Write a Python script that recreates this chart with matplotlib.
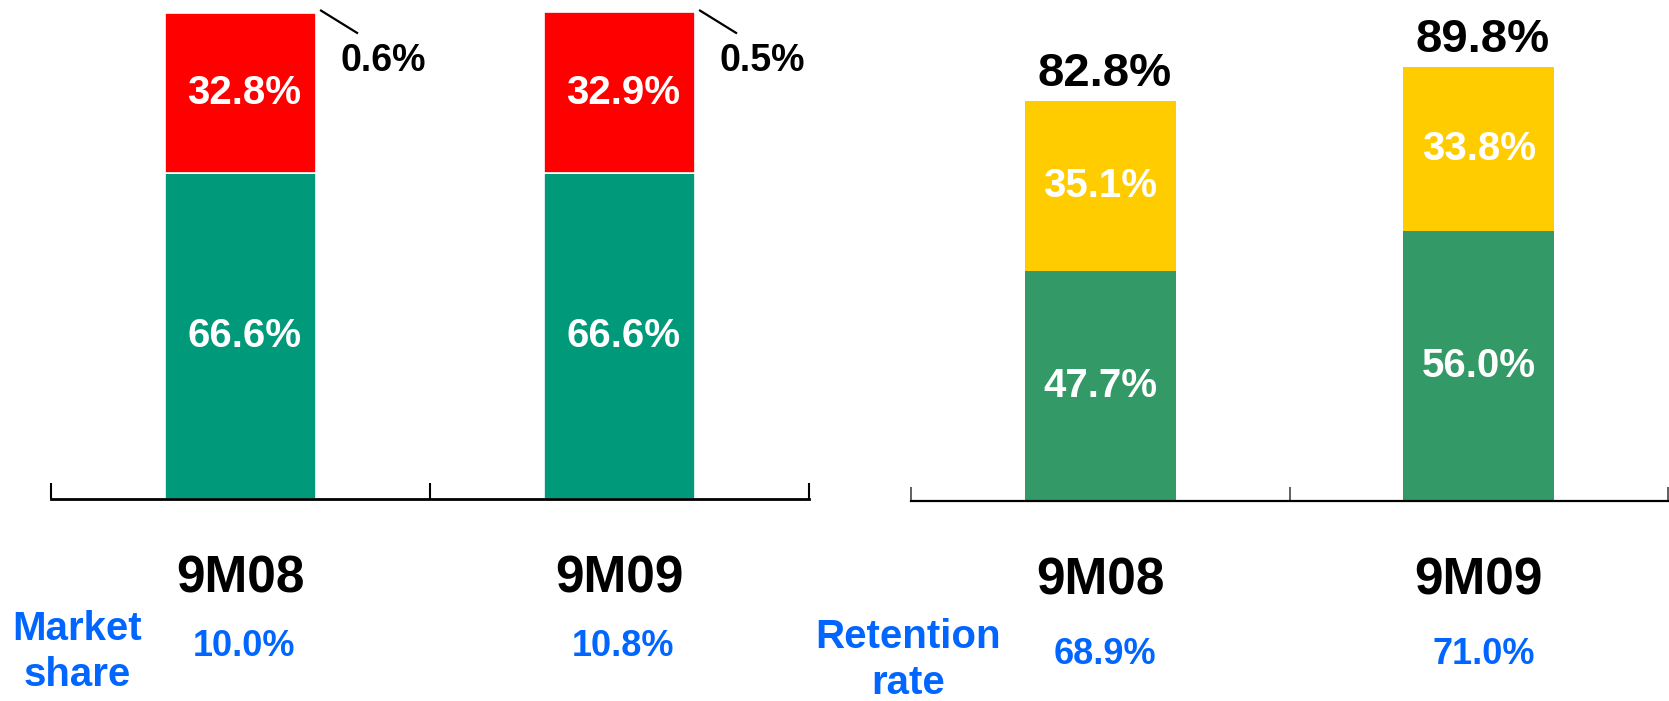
import matplotlib.pyplot as plt

plt.rcParams["font.family"] = ["Liberation Sans", "DejaVu Sans"]
plt.rcParams["font.weight"] = "bold"

# ---- data ----
periods = ["9M08", "9M09"]

# left panel: composition (sums to 100%)
share_green = [66.6, 66.6]
share_red = [32.8, 32.9]
share_other = [0.6, 0.5]
market_share = ["10.0%", "10.8%"]

# right panel: retention
ret_green = [47.7, 56.0]
ret_yellow = [35.1, 33.8]
ret_total = [82.8, 89.8]
retention_rate = ["68.9%", "71.0%"]

GREEN_L = "#00997A"
RED = "#FF0000"
GREEN_R = "#339966"
YELLOW = "#FFCC00"
BLUE = "#0066FF"

W, H = 1669, 701
fig = plt.figure(figsize=(W / 100, H / 100), dpi=100)

ax1 = fig.add_axes([51 / W, 1 - 499 / H, 758 / W, 489 / H])
ax2 = fig.add_axes([911 / W, 1 - 501 / H, 757 / W, 483 / H])

x = list(range(len(periods)))
bw = 0.4

# left stacked bars
ax1.bar(x, share_green, bw, color=GREEN_L, edgecolor="white", linewidth=1.2)
ax1.bar(x, share_red, bw, bottom=share_green, color=RED, edgecolor="white", linewidth=1.2)
tops = [g + r for g, r in zip(share_green, share_red)]
ax1.bar(x, share_other, bw, bottom=tops, color="white", linewidth=0)

for i in x:
    ax1.text(i + 0.01, share_green[i] / 2, f"{share_green[i]:.1f}%", color="white",
             fontsize=29, ha="center", va="center")
    ax1.text(i + 0.01, share_green[i] + share_red[i] / 2, f"{share_red[i]:.1f}%", color="white",
             fontsize=29, ha="center", va="center")
    # leader line for the tiny top segment
    ax1.plot([i + 0.21, i + 0.31], [100.0, 95.2], color="black", lw=1.6,
             solid_capstyle="butt", clip_on=False)
    ax1.text(i + 0.265, 89.6, f"{share_other[i]:.1f}%", color="black",
             fontsize=27, ha="left", va="center")

# right stacked bars
ax2.bar(x, ret_green, bw, color=GREEN_R, linewidth=0)
ax2.bar(x, ret_yellow, bw, bottom=ret_green, color=YELLOW, linewidth=0)
for i in x:
    ax2.text(i, ret_green[i] / 2, f"{ret_green[i]:.1f}%", color="white",
             fontsize=29, ha="center", va="center")
    ax2.text(i, ret_green[i] + ret_yellow[i] / 2, f"{ret_yellow[i]:.1f}%", color="white",
             fontsize=29, ha="center", va="center")
    ax2.annotate(f"{ret_total[i]:.1f}%", (i, ret_total[i]), xytext=(3, 11),
                 textcoords="offset points", ha="center", va="baseline",
                 fontsize=34, color="black")

for ax, lw, tl, tc in [(ax1, 2.0, 11.5, "black"), (ax2, 1.6, 10, "#444444")]:
    ax.set_xlim(-0.5, len(periods) - 0.5)
    ax.set_ylim(0, 100)
    for s in ["top", "left", "right"]:
        ax.spines[s].set_visible(False)
    ax.spines["bottom"].set_linewidth(lw)
    ax.spines["bottom"].set_color("black")
    ax.set_yticks([])
    ax.set_xticks(x)
    ax.set_xticklabels(periods, fontsize=37, fontweight="bold")
    ax.tick_params(axis="x", which="major", length=0, pad=40)
    ax.set_xticks([-0.5, 0.5, 1.5], minor=True)
    ax.tick_params(axis="x", which="minor", direction="in", length=tl,
                   width=lw * 0.75, color=tc)
    ax.patch.set_alpha(0)

# blue footer texts
for i in x:
    xd = ax1.transData.transform((i, 0))[0] / W
    fig.text(xd + 3 / W, 1 - 647 / H, market_share[i], color=BLUE, fontsize=26,
             ha="center", va="center")
    xd = ax2.transData.transform((i, 0))[0] / W
    fig.text(xd + 5 / W, 1 - 655 / H, retention_rate[i], color=BLUE, fontsize=26,
             ha="center", va="center")

fig.text(77 / W, 1 - 652 / H, "Market\nshare", color=BLUE, fontsize=29,
         ha="center", va="center", linespacing=1.27)
fig.text(908 / W, 1 - 660 / H, "Retention\nrate", color=BLUE, fontsize=29,
         ha="center", va="center", linespacing=1.25)

fig.savefig("out.png", dpi=100)
